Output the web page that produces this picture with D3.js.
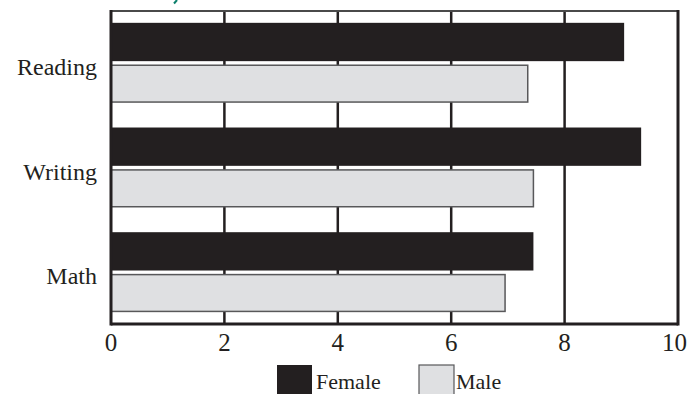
<!DOCTYPE html>
<html>
<head>
<meta charset="utf-8">
<script src="https://cdn.jsdelivr.net/npm/d3@7"></script>
<style>
  html, body { margin: 0; padding: 0; background: #fff; }
  svg { display: block; }
  text { font-family: "Liberation Serif", "DejaVu Serif", serif; fill: #231f20; }
</style>
</head>
<body>
<svg id="chart" width="688" height="394"></svg>
<script>
const categories = ["Reading", "Writing", "Math"];
const seriesNames = ["Female", "Male"];
const femaleValues = [9.05, 9.35, 7.45];
const maleValues = [7.35, 7.45, 6.95];
const xTicks = [0, 2, 4, 6, 8, 10];

const svg = d3.select("#chart");
const W = 688;
const pLeft = 111, pRight = 678, pTop = 11, pBottom = 324;

const x = d3.scaleLinear().domain([0, 10]).range([pLeft, pRight]);
const y = d3.scaleBand().domain(categories).range([pTop, pBottom]).paddingInner(0.236).paddingOuter(0.113);
const ySub = d3.scaleBand().domain(seriesNames).range([0, y.bandwidth()]).paddingInner(0.08);

const colors = { Female: "#231f20", Male: "#dfe0e2" };

// teal fragment of a clipped title above the chart
svg.append("path").attr("d", "M177,0 L174,3.5")
  .attr("stroke", "#0b7f6b").attr("stroke-width", 2).attr("fill", "none");

// gridlines
svg.append("g").selectAll("line").data(xTicks.filter(d => d > 0 && d < 10)).join("line")
  .attr("x1", d => x(d)).attr("x2", d => x(d)).attr("y1", pTop).attr("y2", pBottom)
  .attr("stroke", "#231f20").attr("stroke-width", 2.5);

// bars
const data = categories.map((c, i) => ({ cat: c, Female: femaleValues[i], Male: maleValues[i] }));
const groups = svg.append("g").selectAll("g").data(data).join("g")
  .attr("transform", d => `translate(0,${y(d.cat)})`);
groups.selectAll("rect").data(d => seriesNames.map(s => ({ s, v: d[s] }))).join("rect")
  .attr("x", x(0))
  .attr("y", d => ySub(d.s) + (d.s === "Male" ? 0.75 : 0))
  .attr("width", d => x(d.v) - x(0))
  .attr("height", d => ySub.bandwidth() - (d.s === "Male" ? 1.5 : 0))
  .attr("fill", d => colors[d.s])
  .attr("stroke", d => d.s === "Male" ? "#58585a" : "none")
  .attr("stroke-width", 1.5);

// frame
svg.append("line").attr("x1", pLeft).attr("x2", pRight).attr("y1", pTop).attr("y2", pTop)
  .attr("stroke", "#4a4a4a").attr("stroke-width", 2);
svg.append("line").attr("x1", pLeft).attr("x2", pLeft).attr("y1", pTop - 1).attr("y2", pBottom + 1.5)
  .attr("stroke", "#231f20").attr("stroke-width", 3);
svg.append("line").attr("x1", pRight).attr("x2", pRight).attr("y1", pTop - 1).attr("y2", pBottom + 1.5)
  .attr("stroke", "#231f20").attr("stroke-width", 3);
svg.append("line").attr("x1", pLeft).attr("x2", pRight).attr("y1", pBottom).attr("y2", pBottom)
  .attr("stroke", "#231f20").attr("stroke-width", 3);

// x tick labels (last one kept inside the page edge)
svg.append("g").selectAll("text").data(xTicks).join("text")
  .attr("x", d => d === 10 ? W - 1 : x(d)).attr("y", 351)
  .attr("text-anchor", d => d === 10 ? "end" : "middle")
  .style("font-size", "25px").text(d => d);

// y labels
svg.append("g").selectAll("text").data(categories).join("text")
  .attr("x", 97).attr("y", d => y(d) + y.bandwidth() / 2 + 12).attr("text-anchor", "end")
  .style("font-size", "24px").text(d => d);

// legend
const legend = [{ s: "Female", x: 277, tx: 316 }, { s: "Male", x: 419, tx: 456 }];
const lg = svg.append("g");
lg.selectAll("rect").data(legend).join("rect")
  .attr("x", d => d.x).attr("y", 365).attr("width", 35).attr("height", 34)
  .attr("fill", d => colors[d.s])
  .attr("stroke", d => d.s === "Male" ? "#58585a" : "none").attr("stroke-width", 1.2);
lg.selectAll("text").data(legend).join("text")
  .attr("x", d => d.tx).attr("y", 389).style("font-size", "22px").text(d => d.s);
</script>
</body>
</html>
